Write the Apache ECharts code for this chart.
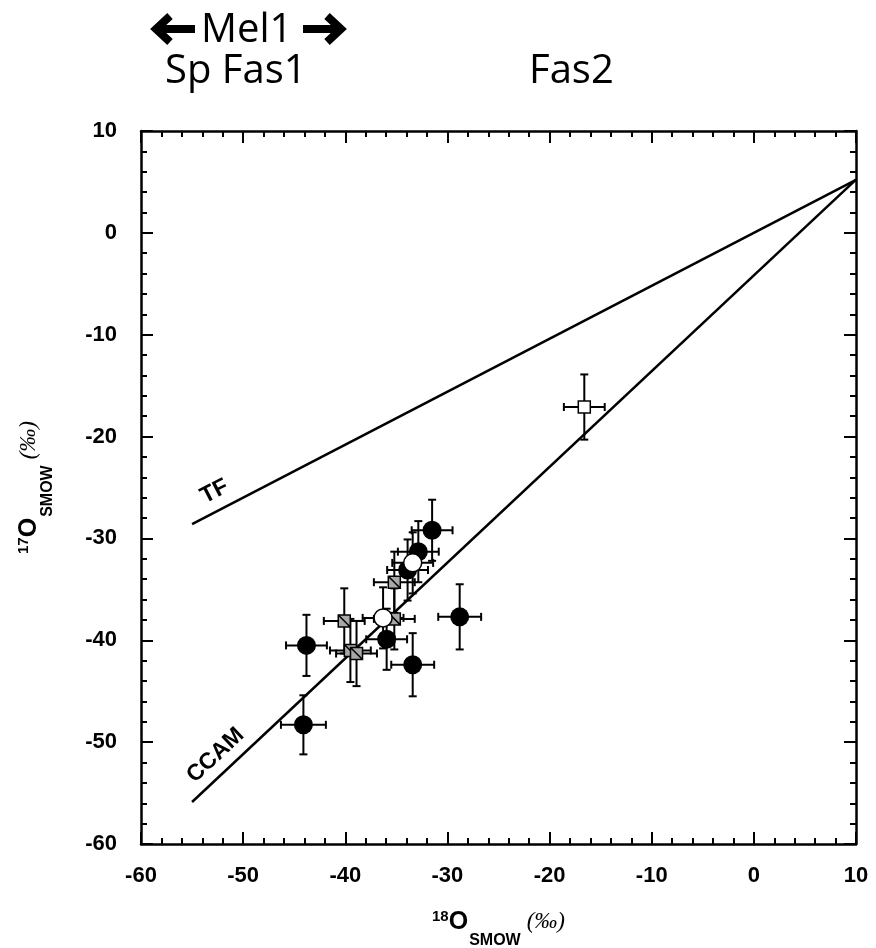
<!DOCTYPE html>
<html><head><meta charset="utf-8">
<script src="https://cdn.jsdelivr.net/npm/echarts@6/dist/echarts.min.js"></script>
<style>html,body{margin:0;padding:0;background:#fff}#c{width:876px;height:948px}</style>
</head><body><div id="c"></div>
<script>
// ---- data (x: d18O, y: d17O, x error, y error) ----
const xTickValues = [-60, -50, -40, -30, -20, -10, 0, 10];
const yTickValues = [-60, -50, -40, -30, -20, -10, 0, 10];
const filledCircles = [
  [-31.5, -29.2, 2.0, 3.0],
  [-32.85, -31.3, 2.0, 3.0],
  [-33.9, -33.1, 2.0, 3.0],
  [-35.95, -39.9, 2.0, 3.0],
  [-43.8, -40.5, 2.0, 3.0],
  [-33.4, -42.4, 2.1, 3.1],
  [-28.8, -37.7, 2.1, 3.2],
  [-44.1, -48.3, 2.2, 2.9]
];
const whiteCircles = [
  [-36.3, -37.8, 2.0, 3.0],
  [-33.4, -32.4, 2.0, 3.0]
];
const crossedSquares = [
  [-35.2, -34.3, 2.0, 3.0],
  [-40.1, -38.1, 2.0, 3.2],
  [-35.2, -37.9, 2.0, 3.0],
  [-39.5, -41.0, 2.0, 3.1],
  [-38.9, -41.3, 2.0, 3.2]
];
const openSquares = [
  [-16.6, -17.1, 2.0, 3.2]
];
const tfLine = [[-55, -28.6], [10, 5.2]];
const ccamLine = [[-55, -55.88], [10, 5.22]];
const lineLabels = { TF: [-52.8, -25.4], CCAM: [-52.7, -51.3] };

// ---- chart ----
const chart = echarts.init(document.getElementById('c'), null, {renderer: 'canvas'});
const black = '#000';
const tickFont = {fontFamily: 'Liberation Sans, Arial, sans-serif', fontWeight: 'bold', fontSize: 22, color: black};
const nameRich = {
  sup: {fontFamily: 'Liberation Sans', fontWeight: 'bold', fontSize: 15, lineHeight: 16, verticalAlign: 'top', padding: [1, 0, 0, 0], color: black},
  o: {fontFamily: 'Liberation Sans', fontWeight: 'bold', fontSize: 25, lineHeight: 26, verticalAlign: 'top', padding: [2, 0, 0, 0], color: black},
  sub: {fontFamily: 'Liberation Sans', fontWeight: 'bold', fontSize: 16, lineHeight: 16, verticalAlign: 'top', padding: [25, 0, 0, 1], color: black},
  it: {fontFamily: 'Liberation Serif', fontStyle: 'italic', fontSize: 23, lineHeight: 24, verticalAlign: 'top', padding: [2, 0, 0, 6], color: black}
};
function axisCommon(showLabel) {
  return {
    type: 'value', min: -60, max: 10, interval: 10,
    axisLine: {show: true, onZero: false, lineStyle: {color: black, width: 2.5}},
    axisTick: {show: true, inside: true, length: 12, lineStyle: {color: black, width: 2}},
    minorTick: {show: true, splitNumber: 5, length: 6, lineStyle: {color: black, width: 2}},
    splitLine: {show: false}, minorSplitLine: {show: false},
    axisLabel: Object.assign({show: showLabel, formatter: v => String(v)}, tickFont)
  };
}
function errRender(params, api) {
  const x = api.value(0), y = api.value(1), xe = api.value(2), ye = api.value(3);
  const c = api.coord([x, y]);
  const l = api.coord([x - xe, y]), r = api.coord([x + xe, y]);
  const t = api.coord([x, y + ye]), b = api.coord([x, y - ye]);
  const cap = 4;
  const st = {stroke: black, lineWidth: 2};
  const seg = (x1, y1, x2, y2) => ({type: 'line', shape: {x1, y1, x2, y2}, style: st});
  return {type: 'group', children: [
    seg(l[0], c[1], r[0], c[1]),
    seg(l[0], c[1] - cap, l[0], c[1] + cap),
    seg(r[0], c[1] - cap, r[0], c[1] + cap),
    seg(c[0], t[1], c[0], b[1]),
    seg(c[0] - cap, t[1], c[0] + cap, t[1]),
    seg(c[0] - cap, b[1], c[0] + cap, b[1])
  ]};
}
const allPoints = [].concat(filledCircles, crossedSquares, whiteCircles, openSquares);
const crossSymbol = 'path://M0,0 L10,0 L10,10 L0,10 Z M0,0 L10,10';
const lineLabelStyle = {show: true, position: 'inside', fontFamily: 'Liberation Sans', fontWeight: 'bold',
  fontSize: 23, color: black, opacity: 1, textBorderWidth: 0, textShadowBlur: 0};

const xMain = Object.assign(axisCommon(true), {
  position: 'bottom',
  axisLabel: Object.assign({show: true, margin: 21, formatter: v => (xTickValues.indexOf(v) >= 0 ? String(v) : '')}, tickFont),
  name: '{sup|18}{o|O}{sub|SMOW}{it|(‰)}', nameLocation: 'middle', nameGap: 64,
  nameTextStyle: {rich: nameRich}
});
const yMain = Object.assign(axisCommon(true), {
  position: 'left',
  axisLabel: Object.assign({show: true, margin: 24, formatter: v => (yTickValues.indexOf(v) >= 0 ? String(v) : '')}, tickFont),
  name: '{sup|17}{o|O}{sub|SMOW}{it|(‰)}', nameLocation: 'middle', nameGap: 100,
  nameTextStyle: {rich: nameRich}
});
const xTop = Object.assign(axisCommon(false), {position: 'top'});
const yRight = Object.assign(axisCommon(false), {position: 'right'});

const option = {
  animation: false,
  backgroundColor: '#fff',
  grid: {left: 141, right: 20, top: 131, bottom: 104, containLabel: false, outerBoundsMode: 'none'},
  xAxis: [xMain, xTop],
  yAxis: [yMain, yRight],
  graphic: [
    {type: 'polyline', shape: {points: [[195, 29], [157, 29]]}, style: {stroke: black, lineWidth: 8}},
    {type: 'polyline', shape: {points: [[170, 16], [156, 29], [170, 42]]}, style: {stroke: black, lineWidth: 8, lineJoin: 'miter', fill: null}},
    {type: 'text', x: 201, y: 31, style: {text: 'Mel1', font: '40px "Open Sans"', fill: black, verticalAlign: 'middle', align: 'left'}},
    {type: 'polyline', shape: {points: [[303, 29], [340, 29]]}, style: {stroke: black, lineWidth: 8}},
    {type: 'polyline', shape: {points: [[327, 16], [341, 29], [327, 42]]}, style: {stroke: black, lineWidth: 8, lineJoin: 'miter', fill: null}},
    {type: 'text', x: 165, y: 72, style: {text: 'Sp Fas1', font: '40px "Open Sans"', fill: black, verticalAlign: 'middle', align: 'left'}},
    {type: 'text', x: 529, y: 72, style: {text: 'Fas2', font: '40px "Open Sans"', fill: black, verticalAlign: 'middle', align: 'left'}}
  ],
  series: [
    {type: 'line', data: tfLine, symbol: 'none', lineStyle: {color: black, width: 2.5}, z: 2},
    {type: 'line', data: ccamLine, symbol: 'none', lineStyle: {color: black, width: 2.5}, z: 2},
    {type: 'scatter', data: [lineLabels.TF], symbolSize: 0, z: 3, itemStyle: {color: black, opacity: 1},
      label: Object.assign({formatter: 'TF', rotate: 27.4}, lineLabelStyle)},
    {type: 'scatter', data: [lineLabels.CCAM], symbolSize: 0, z: 3, itemStyle: {color: black, opacity: 1},
      label: Object.assign({formatter: 'CCAM', rotate: 43.1}, lineLabelStyle)},
    {type: 'custom', data: allPoints, renderItem: errRender, z: 4, encode: {x: 0, y: 1}},
    {type: 'scatter', data: filledCircles, symbol: 'circle', symbolSize: 19, z: 5,
      itemStyle: {color: black, opacity: 1}},
    {type: 'scatter', data: crossedSquares, symbol: crossSymbol, symbolSize: 12, z: 6,
      itemStyle: {color: '#a8a8a8', borderColor: black, borderWidth: 1.5, opacity: 1}},
    {type: 'scatter', data: whiteCircles, symbol: 'circle', symbolSize: 18, z: 7,
      itemStyle: {color: '#fff', borderColor: black, borderWidth: 1.5, opacity: 1}},
    {type: 'scatter', data: openSquares, symbol: 'rect', symbolSize: 12, z: 7,
      itemStyle: {color: '#fff', borderColor: black, borderWidth: 1.5, opacity: 1}}
  ]
};
chart.setOption(option);
</script>
</body></html>
